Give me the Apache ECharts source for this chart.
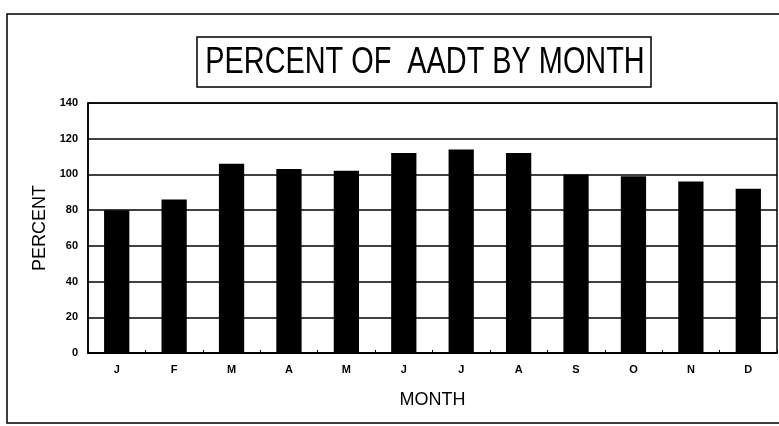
<!DOCTYPE html>
<html>
<head>
<meta charset="utf-8">
<script src="https://cdn.jsdelivr.net/npm/echarts@6/dist/echarts.min.js"></script>
<style>
  html, body { margin: 0; padding: 0; background: #fff; }
  #chart { width: 779px; height: 426px; }
</style>
</head>
<body>
<div id="chart"></div>
<script>
const months = ['J', 'F', 'M', 'A', 'M', 'J', 'J', 'A', 'S', 'O', 'N', 'D'];
const percent = [80, 86, 106, 103, 102, 112, 114, 112, 100, 99, 96, 92];
const yTicks = [0, 20, 40, 60, 80, 100, 120, 140];
const titleText = 'PERCENT OF  AADT BY MONTH';

const chart = echarts.init(document.getElementById('chart'));

const option = {
  backgroundColor: '#fff',
  animation: false,
  graphic: [
    {
      // outer frame
      type: 'rect',
      shape: { x: 7, y: 14, width: 790, height: 409 },
      style: { fill: 'none', stroke: '#000', lineWidth: 1.5 },
      silent: true
    },
    {
      // title box
      type: 'rect',
      shape: { x: 197, y: 37, width: 454, height: 50 },
      style: { fill: '#fff', stroke: '#000', lineWidth: 1.5 },
      silent: true
    },
    {
      type: 'text',
      x: 425,
      y: 63,
      scaleX: 0.78,
      style: {
        text: titleText,
        font: 'normal 37px "Liberation Sans", Arial',
        fill: '#000',
        align: 'center',
        verticalAlign: 'middle'
      },
      silent: true
    }
  ],
  grid: {
    left: 88,
    top: 103,
    right: 2,
    bottom: 73,
    show: true,
    borderColor: '#000',
    borderWidth: 1.5
  },
  xAxis: {
    type: 'category',
    data: months,
    name: 'MONTH',
    nameLocation: 'middle',
    nameGap: 38,
    nameTextStyle: {
      fontFamily: 'Liberation Sans, Arial',
      fontSize: 18,
      color: '#000'
    },
    axisLine: { lineStyle: { color: '#000', width: 1.5 } },
    axisTick: { show: true, inside: true, length: 3, lineStyle: { color: '#000' } },
    axisLabel: {
      margin: 11,
      fontFamily: 'Liberation Sans, Arial',
      fontWeight: 'bold',
      fontSize: 11,
      color: '#000'
    }
  },
  yAxis: {
    type: 'value',
    min: yTicks[0],
    max: yTicks[yTicks.length - 1],
    interval: 20,
    name: 'PERCENT',
    nameLocation: 'middle',
    nameGap: 38,
    nameTextStyle: {
      fontFamily: 'Liberation Sans, Arial',
      fontSize: 18,
      color: '#000'
    },
    axisLine: { show: true, lineStyle: { color: '#000', width: 1.5 } },
    axisTick: { show: false },
    axisLabel: {
      margin: 10,
      fontFamily: 'Liberation Sans, Arial',
      fontWeight: 'bold',
      fontSize: 11,
      color: '#000'
    },
    splitLine: { lineStyle: { color: '#000', width: 1.5 } }
  },
  series: [
    {
      type: 'bar',
      data: percent,
      barWidth: '44%',
      itemStyle: { color: '#000' }
    }
  ]
};

chart.setOption(option);
</script>
</body>
</html>
